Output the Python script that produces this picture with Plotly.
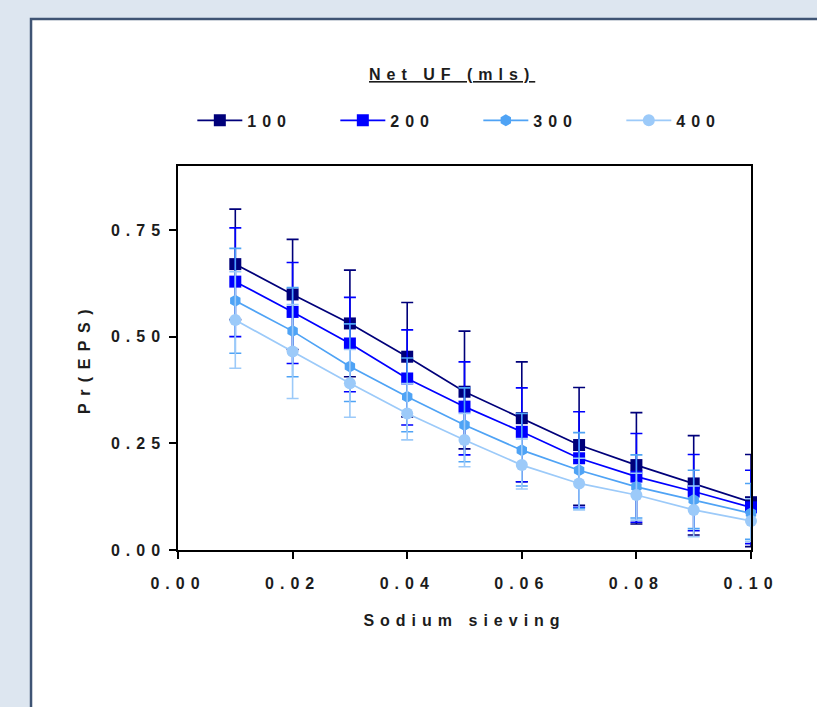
import plotly.graph_objects as go

# ---------------- data ----------------
sieving = [0.01, 0.02, 0.03, 0.04, 0.05, 0.06, 0.07, 0.08, 0.09, 0.10]
series_names = ["100", "200", "300", "400"]
legend_title = "Net UF (mls)"

mean_100 = [0.670, 0.599, 0.531, 0.453, 0.371, 0.309, 0.246, 0.199, 0.156, 0.112]
upper_100 = [0.799, 0.728, 0.656, 0.580, 0.513, 0.441, 0.381, 0.322, 0.268, 0.224]
lower_100 = [0.540, 0.470, 0.406, 0.312, 0.237, 0.160, 0.105, 0.061, 0.035, 0.008]

mean_200 = [0.629, 0.558, 0.484, 0.402, 0.336, 0.277, 0.215, 0.172, 0.137, 0.100]
upper_200 = [0.755, 0.674, 0.592, 0.516, 0.441, 0.380, 0.324, 0.273, 0.224, 0.187]
lower_200 = [0.500, 0.437, 0.371, 0.293, 0.223, 0.160, 0.100, 0.065, 0.045, 0.015]

mean_300 = [0.584, 0.513, 0.430, 0.359, 0.293, 0.234, 0.187, 0.148, 0.117, 0.086]
upper_300 = [0.707, 0.615, 0.530, 0.450, 0.380, 0.320, 0.275, 0.223, 0.187, 0.156]
lower_300 = [0.461, 0.406, 0.348, 0.277, 0.207, 0.150, 0.098, 0.075, 0.050, 0.025]

mean_400 = [0.539, 0.465, 0.391, 0.320, 0.258, 0.199, 0.156, 0.129, 0.094, 0.068]
upper_400 = [0.652, 0.575, 0.470, 0.390, 0.320, 0.260, 0.215, 0.180, 0.150, 0.120]
lower_400 = [0.426, 0.355, 0.311, 0.258, 0.195, 0.143, 0.094, 0.070, 0.031, 0.020]

x_tick_vals = [0.00, 0.02, 0.04, 0.06, 0.08, 0.10]
x_tick_text = ["0.00", "0.02", "0.04", "0.06", "0.08", "0.10"]
y_tick_vals = [0.00, 0.25, 0.50, 0.75]
y_tick_text = ["0.00", "0.25", "0.50", "0.75"]
threshold = 0.5

# ---------------- styling ----------------
colors = ["#00007a", "#0000ff", "#4fa3f5", "#9ccaf9"]
symbols = ["square", "square", "hexagon", "circle"]
FONT = "Liberation Sans, Arial, sans-serif"
TXT = "#1c1c1c"
FS = 16

means = [mean_100, mean_200, mean_300, mean_400]
uppers = [upper_100, upper_200, upper_300, upper_400]
lowers = [lower_100, lower_200, lower_300, lower_400]

fig = go.Figure()
for name, m, u, l, c, s in zip(series_names, means, uppers, lowers, colors, symbols):
    fig.add_trace(go.Scatter(
        x=sieving, y=m, name=name, mode="lines+markers",
        line=dict(color=c, width=1.7),
        marker=dict(symbol=s, size=12, color=c),
        error_y=dict(type="data", symmetric=False,
                     array=[a - b for a, b in zip(u, m)],
                     arrayminus=[b - a for a, b in zip(l, m)],
                     color=c, thickness=1.6, width=6),
        cliponaxis=False,
    ))

fig.add_hline(y=threshold, line=dict(color="black", width=1.5, dash="dot"), layer="below")

# white panel with dark frame (the window the chart sits in)
fig.add_shape(type="rect", xref="paper", yref="paper",
              x0=-0.2565, x1=1.25, y0=-0.7, y1=1.383,
              fillcolor="white", line=dict(color="#3f5474", width=2.5), layer="below")

# legend heading (underlined), placed above the legend row
fig.add_annotation(text="<u>" + legend_title + "</u>", xref="paper", yref="paper",
                   x=0.478, y=1.237, xanchor="center", yanchor="middle", showarrow=False,
                   font=dict(family=FONT, size=FS, color=TXT, weight=700))

fig.update_layout(
    width=817, height=707, autosize=False,
    margin=dict(l=178, r=66, t=166, b=157),
    paper_bgcolor="#dde6f0", plot_bgcolor="white",
    font=dict(family=FONT, size=FS, color=TXT, weight=700),
    showlegend=True,
    legend=dict(
        orientation="h", x=0.025, xanchor="left", y=1.163, yanchor="top",
        font=dict(family=FONT, size=FS, color=TXT, weight=700),
        itemwidth=45,
        entrywidth=83, entrywidthmode="pixels",
        bgcolor="rgba(0,0,0,0)",
    ),
    xaxis=dict(
        range=[0, 0.10], tickvals=x_tick_vals, ticktext=x_tick_text,
        ticks="outside", ticklen=7, tickwidth=1.5, tickcolor="black",
        showline=True, linecolor="black", linewidth=1.5, mirror=True,
        showgrid=False, zeroline=False, ticklabelstandoff=11,
        title=dict(text="Sodium sieving", standoff=24,
                   font=dict(family=FONT, size=FS, color=TXT, weight=700)),
    ),
    yaxis=dict(
        range=[0, 0.9], tickvals=y_tick_vals, ticktext=y_tick_text,
        ticks="outside", ticklen=7, tickwidth=1.5, tickcolor="black",
        showline=True, linecolor="black", linewidth=1.5, mirror=True,
        showgrid=False, zeroline=False, ticklabelstandoff=0,
        title=dict(text="Pr(EPS)", standoff=40,
                   font=dict(family=FONT, size=FS, color=TXT, weight=700)),
    ),
)

post = """
var st = document.createElement('style');
st.innerHTML = 'body { margin: 0; } svg text { letter-spacing: 6px; } .g-ytitle text { letter-spacing: 7.5px; }';
document.head.appendChild(st);
"""

fig.write_html("out.html", post_script=post, config={"displayModeBar": False})
